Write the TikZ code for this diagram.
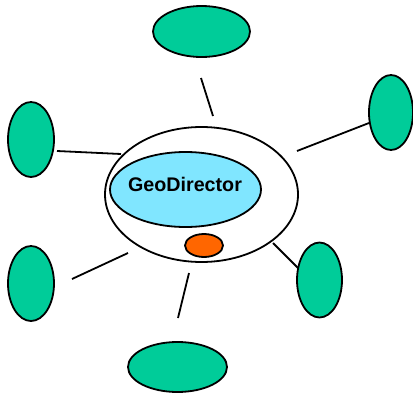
\documentclass[tikz,border=0pt]{standalone}
\usepackage{fontspec}
\setmainfont{Liberation Sans}
\usetikzlibrary{shapes.geometric}
\definecolor{leafgreen}{HTML}{00CC99}
\definecolor{coreblue}{HTML}{80E6FF}
\definecolor{dotorange}{HTML}{FF6600}
\begin{document}
\begin{tikzpicture}[x=1pt,y=-1pt]

      \useasboundingbox (0,0) rectangle (413,394);

      \begin{scope}[every node/.style={ellipse,draw,line width=1.8pt,inner sep=0pt}]
        \node[minimum width=193pt,minimum height=135pt] (shell) at (201.5,194.5) {};
        \node[fill=coreblue,minimum width=151pt,minimum height=75pt] (core) at (185.5,189.5) {};
        \node[fill=dotorange,minimum width=38pt,minimum height=23pt] (dot) at (204,245.5) {};
      \end{scope}
      \node[font=\fontsize{19.7}{24}\selectfont\bfseries] (corename) at (185,184) {GeoDirector};

      \begin{scope}[every node/.style={ellipse,draw,line width=1.8pt,inner sep=0pt,fill=leafgreen}]
        \node[minimum width=97pt,minimum height=51pt] (top)  at (201.5,31.5)  {};
        \node[minimum width=44pt,minimum height=75pt] (rtop) at (391,112.5)  {};
        \node[minimum width=46pt,minimum height=75pt] (ltop) at (31,139.5)   {};
        \node[minimum width=46pt,minimum height=75pt] (lbot) at (31,283.5)   {};
        \node[minimum width=45pt,minimum height=75pt] (rbot) at (319.5,280)  {};
        \node[minimum width=99pt,minimum height=50pt] (bot)  at (177.5,367)  {};
      \end{scope}

      % spokes
      \coordinate (top-a)  at (201,78);   \coordinate (top-b)  at (213,116);
      \coordinate (rtop-a) at (369,123);  \coordinate (rtop-b) at (297,151);
      \coordinate (ltop-a) at (57,151);   \coordinate (ltop-b) at (121,154);
      \coordinate (lbot-a) at (72,279);   \coordinate (lbot-b) at (128,253);
      \coordinate (rbot-a) at (298,268);  \coordinate (rbot-b) at (273,243);
      \coordinate (bot-a)  at (178,318);  \coordinate (bot-b)  at (189,273);

      \begin{scope}[line width=1.8pt]
        \draw (top-a)  -- (top-b);
        \draw (rtop-a) -- (rtop-b);
        \draw (ltop-a) -- (ltop-b);
        \draw (lbot-a) -- (lbot-b);
        \draw (rbot-a) -- (rbot-b);
        \draw (bot-a)  -- (bot-b);
      \end{scope}

    \end{tikzpicture}
\end{document}
